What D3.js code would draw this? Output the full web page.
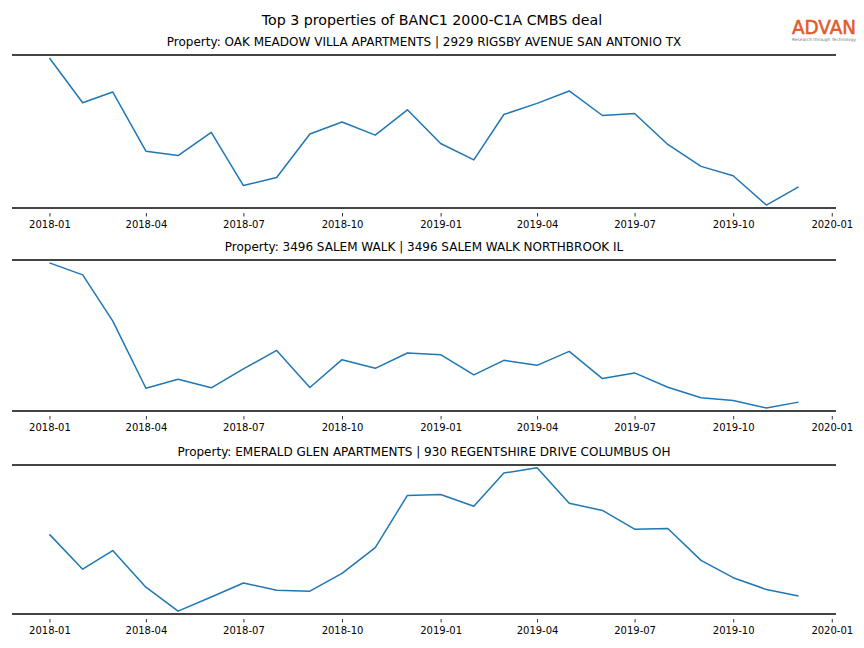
<!DOCTYPE html>
<html>
<head>
<meta charset="utf-8">
<script src="https://cdn.jsdelivr.net/npm/d3@7"></script>
<style>
  html, body { margin: 0; padding: 0; background: #fff; }
  text { font-family: "DejaVu Sans", sans-serif; }
</style>
</head>
<body>
<svg id="chart" width="864" height="648"></svg>
<script>
// ---------- data ----------
const months = [
  "2018-01","2018-02","2018-03","2018-04","2018-05","2018-06",
  "2018-07","2018-08","2018-09","2018-10","2018-11","2018-12",
  "2019-01","2019-02","2019-03","2019-04","2019-05","2019-06",
  "2019-07","2019-08","2019-09","2019-10","2019-11","2019-12"
];
const titleText = "Top 3 properties of BANC1 2000-C1A CMBS deal";
const propertyTitles = [
  "Property: OAK MEADOW VILLA APARTMENTS | 2929 RIGSBY AVENUE SAN ANTONIO TX",
  "Property: 3496 SALEM WALK | 3496 SALEM WALK NORTHBROOK IL",
  "Property: EMERALD GLEN APARTMENTS | 930 REGENTSHIRE DRIVE COLUMBUS OH"
];
const seriesOak = [149.2, 104.8, 115.5, 56.8, 52.5, 75.5, 22.8, 30.8, 73.8, 85.8, 72.8, 97.8,
                   64.5, 48.2, 93.2, 104.2, 116.5, 92.2, 94.2, 63.5, 41.8, 32.5, 3.5, 21.5];
const seriesSalem = [148.0, 136.0, 89.7, 22.0, 31.0, 22.4, 41.4, 60.0, 22.7, 50.7, 42.0, 57.4,
                     55.7, 35.4, 50.0, 45.0, 59.0, 31.7, 37.4, 23.0, 12.4, 9.7, 2.0, 8.0];
const seriesEmerald = [79.4, 44.0, 63.0, 25.7, 1.4, 15.7, 30.0, 22.7, 21.7, 39.7, 66.0, 119.0,
                       120.0, 108.0, 141.7, 147.0, 111.0, 103.7, 84.7, 85.4, 53.0, 35.4, 23.4, 16.7];
const tickLabels = ["2018-01","2018-04","2018-07","2018-10","2019-01","2019-04","2019-07","2019-10","2020-01"];
const logoText = "ADVAN";
const logoTagline = "Research through Technology";

// ---------- layout ----------
const svg = d3.select("#chart");
const W = 864;
const left = 12, right = 836;
const panels = [
  { top: 55,  bottom: 208, data: seriesOak,     title: propertyTitles[0] },
  { top: 260, bottom: 411, data: seriesSalem,   title: propertyTitles[1] },
  { top: 465, bottom: 614, data: seriesEmerald, title: propertyTitles[2] }
];

const parseMonth = d3.timeParse("%Y-%m");
const dates = months.map(parseMonth);
const tickDates = tickLabels.map(parseMonth);
const fmt = d3.timeFormat("%Y-%m");

// matplotlib-like 5% x margins
const t0 = dates[0].getTime(), t1 = dates[dates.length - 1].getTime();
const xpad = (t1 - t0) * 0.05;
const x = d3.scaleTime()
  .domain([new Date(t0 - xpad), new Date(t1 + xpad)])
  .range([left, right]);

// main title
svg.append("text")
  .attr("x", W / 2).attr("y", 20)
  .attr("text-anchor", "middle").attr("dominant-baseline", "central")
  .attr("font-size", 14.2).attr("fill", "#000")
  .text(titleText);

panels.forEach(p => {
  const ext = d3.extent(p.data);
  const pad = (ext[1] - ext[0]) * 0.02;
  const y = d3.scaleLinear()
    .domain([ext[0] - pad, ext[1] + pad])
    .range([p.bottom, p.top]);

  const g = svg.append("g");

  // subtitle
  g.append("text")
    .attr("x", (left + right) / 2).attr("y", p.top - 13)
    .attr("text-anchor", "middle").attr("dominant-baseline", "central")
    .attr("font-size", 12).attr("fill", "#000")
    .text(p.title);

  // x axis ticks + labels
  const axis = d3.axisBottom(x)
    .tickValues(tickDates)
    .tickFormat(fmt)
    .tickSize(3.5)
    .tickPadding(4.5);
  const ag = g.append("g")
    .attr("transform", `translate(0,${p.bottom + 5})`)
    .call(axis);
  ag.select(".domain").remove();
  ag.selectAll(".tick line").attr("stroke", "#000").attr("stroke-width", 0.8);
  ag.selectAll(".tick text")
    .attr("font-family", "DejaVu Sans, sans-serif")
    .attr("font-size", 10).attr("fill", "#000");

  // line
  const line = d3.line()
    .x((d, i) => x(dates[i]))
    .y(d => y(d));
  g.append("path")
    .datum(p.data)
    .attr("fill", "none")
    .attr("stroke", "#1f77b4")
    .attr("stroke-width", 1.5)
    .attr("stroke-linejoin", "round")
    .attr("d", line);

  // top & bottom spines
  [p.top, p.bottom].forEach(yy => {
    g.append("line")
      .attr("x1", left).attr("x2", right)
      .attr("y1", yy).attr("y2", yy)
      .attr("stroke", "#444").attr("stroke-width", 2);
  });
});

// logo
svg.append("text")
  .attr("x", 792).attr("y", 34)
  .attr("font-family", "Liberation Sans, sans-serif")
  .attr("font-size", 20)
  .attr("fill", "#e25a2c")
  .attr("stroke", "#e25a2c").attr("stroke-width", 0.6)
  .attr("textLength", 64).attr("lengthAdjust", "spacingAndGlyphs")
  .text(logoText);
svg.append("text")
  .attr("x", 792).attr("y", 40.5)
  .attr("font-size", 4.3)
  .attr("fill", "#777")
  .attr("textLength", 64).attr("lengthAdjust", "spacingAndGlyphs")
  .text(logoTagline);
</script>
</body>
</html>
